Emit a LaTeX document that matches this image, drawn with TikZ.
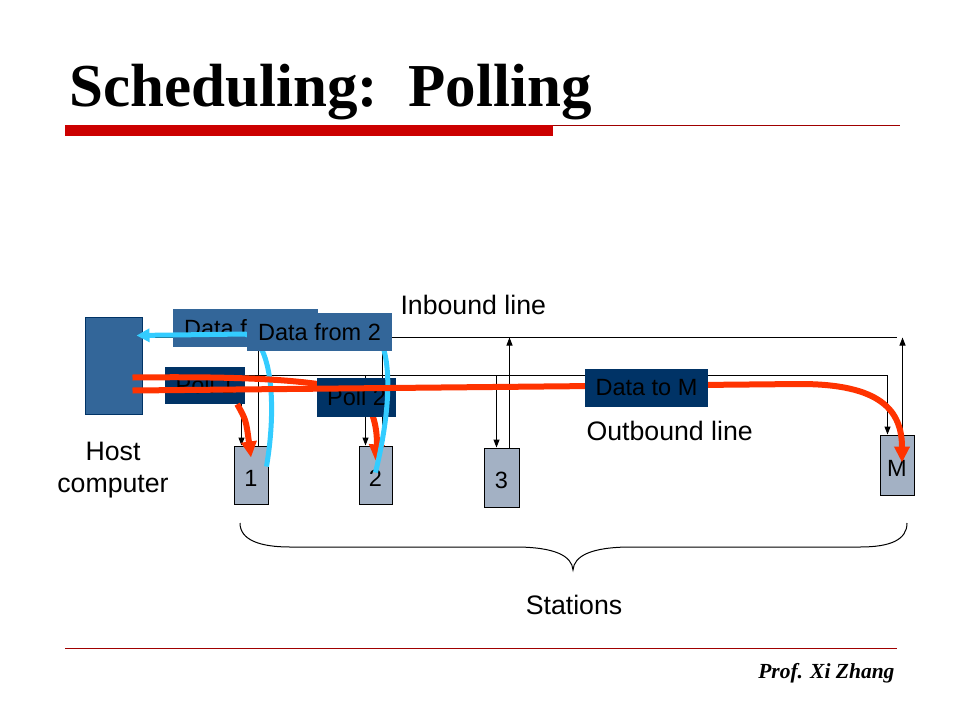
\documentclass[tikz,border=0pt]{standalone}
\usepackage{fontspec}
\setmainfont{Liberation Sans}
\newfontfamily\titlefont{Liberation Serif}
\usetikzlibrary{arrows.meta,calc}
\definecolor{hostblue}{HTML}{336699}
\definecolor{navy}{HTML}{003366}
\definecolor{stagray}{HTML}{A3B1C4}
\definecolor{flowred}{HTML}{FF3300}
\definecolor{flowcyan}{HTML}{33CCFF}
\definecolor{barred}{HTML}{CC0000}
\definecolor{rulered}{HTML}{A00000}
\newcommand{\lbl}{\fontsize{26.7}{32}\selectfont}
\newcommand{\boxlbl}{\fontsize{23.5}{28}\selectfont}
\begin{document}
\begin{tikzpicture}[x=1pt,y=-1pt,
  thinarr/.style={-{Triangle[length=8pt,width=6pt]},line width=1pt},
  station/.style={draw,fill=stagray,line width=1pt,inner sep=0pt,text height=22pt,font=\boxlbl},
  pkt/.style={fill=navy,text=black,inner sep=0pt,font=\boxlbl,minimum height=38pt},
  dpkt/.style={fill=hostblue,text=black,inner sep=0pt,font=\boxlbl,minimum width=145pt,minimum height=38pt},
  redflow/.style={draw=flowred,line width=6pt,-{Triangle[length=16pt,width=15pt]}},
  cyanflow/.style={draw=flowcyan,line width=5pt}]
\useasboundingbox (0,0) rectangle (960,720);

\node[anchor=base west,font=\titlefont\bfseries\fontsize{61}{70}\selectfont] (title) at (66,106) {Scheduling:\ \ Polling};
\fill[barred] (65,125) rectangle (553,136);
\draw[rulered,line width=1pt] (553,125.5) -- (900,125.5);
\draw[rulered,line width=1pt] (65,648) -- (897,648);
\node[anchor=base east,font=\titlefont\bfseries\itshape\fontsize{21.5}{24}\selectfont] (author) at (898,678) {Prof. Xi Zhang};

\node[draw=navy,fill=hostblue,minimum width=57pt,minimum height=97pt,line width=1pt] (host) at (113.5,365.5) {};
\node[align=center,font=\lbl] (hostlbl) at (113,470) {Host\\computer};

\node[station,minimum width=34pt,minimum height=58pt] (sta) at (251,475) {1};
\node[station,minimum width=33pt,minimum height=58pt] (stb) at (375.5,475) {2};
\node[station,minimum width=35pt,minimum height=59pt] (stc) at (501.5,477.5) {3};
\node[station,minimum width=34pt,minimum height=60pt] (stm) at (897,465) {M};

\coordinate (inbound) at ($(host.east)+(0,-28)$);
\coordinate (outbound) at ($(host.east)+(0,10)$);
\foreach \s/\dn/\up in {sta/8/25,stb/7/24,stc/13/26,stm/8/23}{
  \coordinate (\s-dn) at ($(\s.north west)+(\dn,0)$);
  \coordinate (\s-up) at ($(\s.north west)+(\up,0)$);
  \draw[thinarr] (\s-dn |- outbound) -- (\s-dn);
  \draw[thinarr] (\s-up) -- (\s-up |- inbound);
}
\draw[line width=1pt] (inbound) -- ($(stm-up |- inbound)+(-6,0)$);
\draw[line width=1pt] (outbound) -- (stm-dn |- outbound);

\node[anchor=base west,font=\lbl] (inlbl) at (397,314) {Inbound line};
\node[anchor=base west,font=\lbl] (outlbl) at (583,440) {Outbound line};

\draw[line width=1pt] (240,523) .. controls (240,540) and (260,547) .. (290,547) -- (515,547) .. controls (555,547) and (572,556) .. (573,570) .. controls (574,556) and (591,547) .. (631,547) -- (860,547) .. controls (890,547) and (907,540) .. (907,523);
\node[anchor=base,font=\lbl] (stalbl) at (574,614) {Stations};

\node[dpkt] (dfone) at (245.5,328) {Data from 1};
\node[pkt,minimum width=80pt,minimum height=37pt] (pollone) at (205,385.5) {Poll 1};
\draw[cyanflow,-{Triangle[length=13pt,width=13pt]}] ($(sta.north east)+(-2,21)$) .. controls (277,405) and (272,340) .. (245,334) -- ($(host.east)+(-6,-30)$);
\draw[redflow] ($(host.east)+(-10,12)$) .. controls (260,376) and (320,381) .. (355,392) .. controls (372,400) and (378,430) .. ($(stb.north)+(0,15)$);
\draw[redflow] ($(pollone.south east)+(-8,0)$) .. controls (246,420) .. ($(sta.north)+(0,12)$);
\node[pkt,minimum width=79pt,minimum height=39pt] (polltwo) at (356.5,397.5) {Poll 2};
\draw[cyanflow] ($(stb.north)+(0,27)$) .. controls (393,400) and (390,355) .. (378,336);
\draw[redflow] ($(host.east)+(-10,25)$) -- (800,384) .. controls (880,384) and (902,410) .. ($(stm.north)+(5,28)$);
\node[pkt,minimum width=123pt] (datam) at (646.5,388) {Data to M};
\node[dpkt] (dftwo) at (319.5,332) {Data from 2};

\end{tikzpicture}
\end{document}
